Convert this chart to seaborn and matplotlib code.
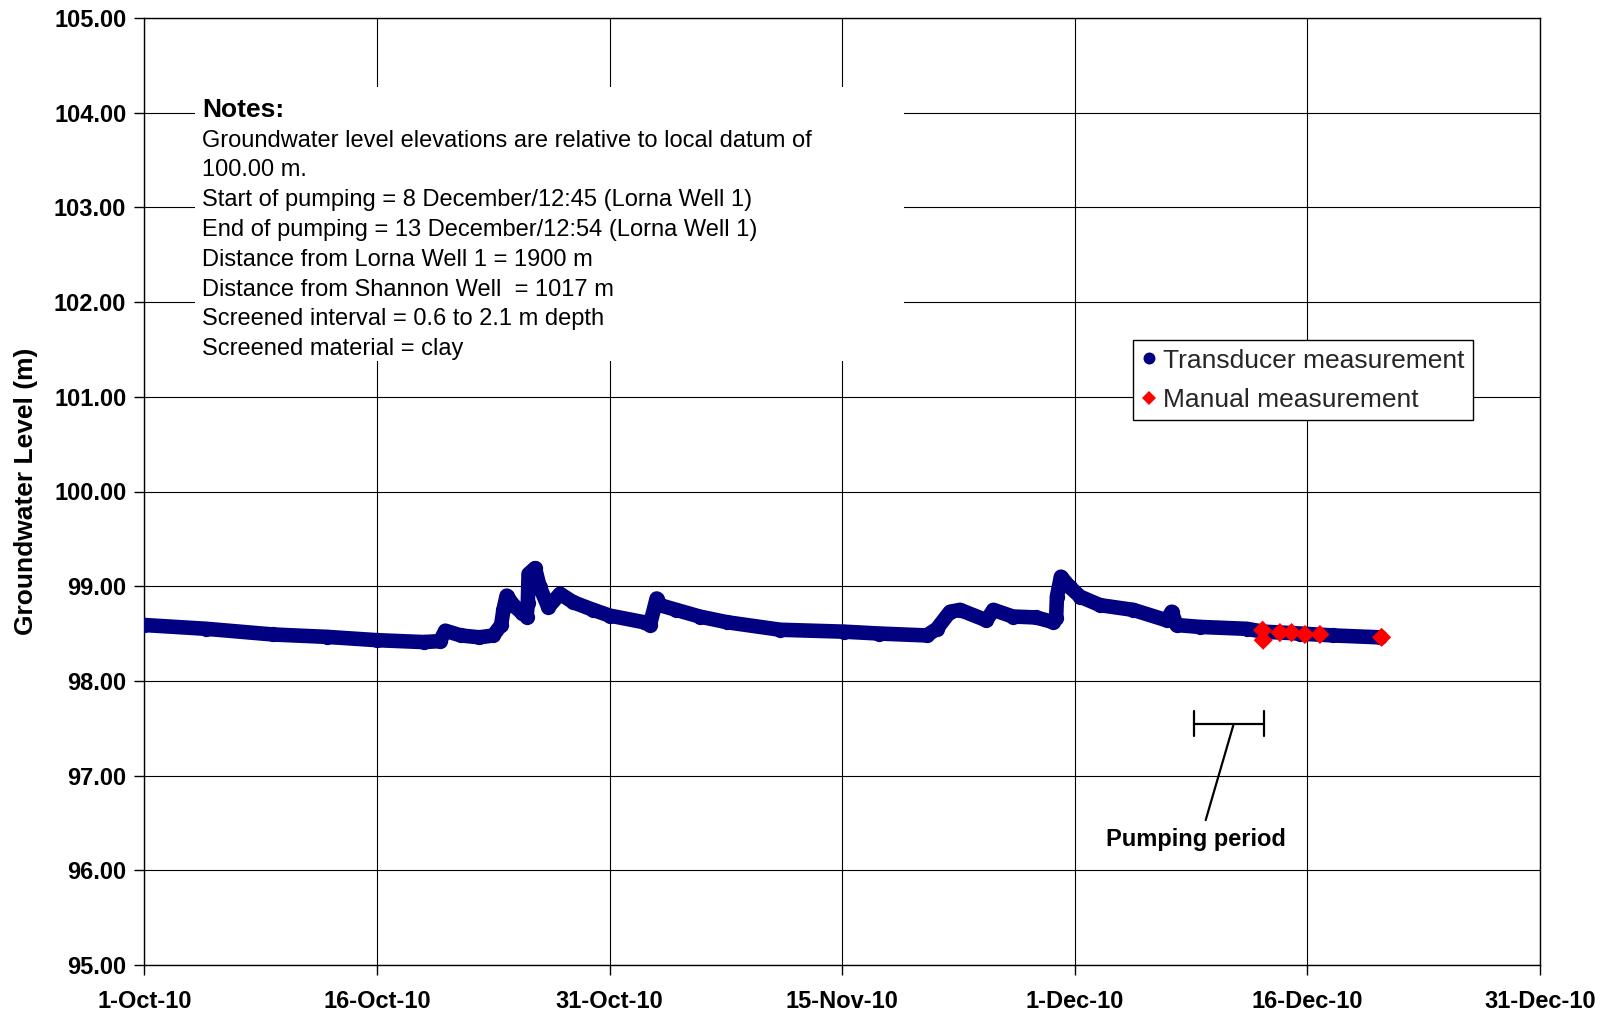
import matplotlib
matplotlib.use("Agg")
import matplotlib.pyplot as plt
import matplotlib.dates as mdates
from matplotlib.lines import Line2D
from matplotlib.patches import Rectangle
import seaborn as sns
import pandas as pd

# ---------------- data ----------------
# days after 1-Oct-2010 and groundwater level (m)
transducer_days = [0.0, 4.04, 8.39, 11.89, 15.17, 18.2, 19.27, 19.62, 20.63, 21.84,
                   22.75, 23.26, 23.41, 23.62, 24.06, 24.6, 24.92, 25.0, 25.05, 25.47,
                   25.78, 26.34, 27.1, 27.97, 29.27, 30.33, 32.56, 32.96, 33.4, 33.62,
                   34.68, 36.2, 37.97, 41.46, 45.6, 47.93, 51.01, 51.67, 52.53, 53.18,
                   54.9, 55.36, 56.62, 58.14, 59.27, 59.45, 59.5, 59.76, 60.35, 61.01,
                   62.31, 64.48, 66.65, 66.98, 67.3, 68.83, 71.87, 72.95, 75.35, 77.52,
                   80.56]
transducer_level = [98.59, 98.55, 98.49, 98.465, 98.43, 98.41, 98.42, 98.53, 98.48, 98.46,
                    98.48, 98.59, 98.75, 98.90, 98.80, 98.72, 98.68, 98.82, 99.13, 99.19,
                    98.99, 98.78, 98.92, 98.83, 98.75, 98.69, 98.62, 98.59, 98.87, 98.80,
                    98.75, 98.68, 98.62, 98.54, 98.52, 98.50, 98.48, 98.55, 98.73, 98.75,
                    98.64, 98.75, 98.68, 98.67, 98.62, 98.66, 98.89, 99.10, 98.99, 98.89,
                    98.80, 98.75, 98.64, 98.73, 98.59, 98.57, 98.55, 98.52, 98.50, 98.48,
                    98.46]
manual_days = [72.91, 72.95, 74.04, 74.80, 75.67, 76.65, 80.67]
manual_level = [98.535, 98.43, 98.51, 98.51, 98.49, 98.49, 98.46]

x_tick_labels = ["1-Oct-10", "16-Oct-10", "31-Oct-10", "15-Nov-10",
                 "1-Dec-10", "16-Dec-10", "31-Dec-10"]
y_ticks = [95, 96, 97, 98, 99, 100, 101, 102, 103, 104, 105]

notes_title = "Notes:"
notes_lines = [
    "Groundwater level elevations are relative to local datum of",
    "100.00 m.",
    "Start of pumping = 8 December/12:45 (Lorna Well 1)",
    "End of pumping = 13 December/12:54 (Lorna Well 1)",
    "Distance from Lorna Well 1 = 1900 m",
    "Distance from Shannon Well  = 1017 m",
    "Screened interval = 0.6 to 2.1 m depth",
    "Screened material = clay",
]
legend_labels = ["Transducer measurement", "Manual measurement"]

# ---------------- figure ----------------
sns.set_theme(style="white")
plt.rcParams["font.family"] = ["Liberation Sans", "DejaVu Sans"]

W, H = 1606, 1016
fig = plt.figure(figsize=(W / 100, H / 100), dpi=100)
L, R, T, B = 144.4, 1540.0, 18.0, 965.0
ax = fig.add_axes([L / W, 1 - B / H, (R - L) / W, (B - T) / H])

start = pd.Timestamp("2010-10-01")
tdf = pd.DataFrame({"date": start + pd.to_timedelta(transducer_days, unit="D"),
                    "level": transducer_level})
mdf = pd.DataFrame({"date": start + pd.to_timedelta(manual_days, unit="D"),
                    "level": manual_level})

navy = "#000080"
red = "#FF0000"

sns.lineplot(data=tdf, x="date", y="level", ax=ax, color=navy, linewidth=10.5,
             marker="o", markersize=11, markeredgewidth=0, sort=False,
             estimator=None, solid_capstyle="round", solid_joinstyle="round",
             zorder=3, legend=False)
sns.scatterplot(data=mdf, x="date", y="level", ax=ax, marker="D", s=95,
                color=red, edgecolor="none", linewidth=0, zorder=4, legend=False)

# axes limits / ticks
x0 = mdates.date2num(start)
ax.set_xlim(x0, x0 + 91)
ax.set_ylim(95, 105)
ax.set_xticks([x0 + 91 * k / 6 for k in range(7)])
ax.set_xticklabels(x_tick_labels, fontsize=17, fontweight="bold")
ax.set_yticks(y_ticks)
ax.set_yticklabels([f"{v:.2f}" for v in y_ticks], fontsize=17, fontweight="bold")
ax.tick_params(axis="both", direction="out", length=7, width=1, color="black",
               labelcolor="black", bottom=True, left=True)
ax.tick_params(axis="x", pad=11)
ax.tick_params(axis="y", pad=6)
ax.set_xlabel("")
ax.set_ylabel("Groundwater Level (m)", fontsize=19, fontweight="bold", color="black")
ax.yaxis.set_label_coords(-0.076, 0.5)

ax.grid(True, color="black", linewidth=0.8)
ax.set_axisbelow(True)
for s in ax.spines.values():
    s.set_visible(True)
    s.set_color("black")
    s.set_linewidth(1.0)

# notes box
def fx(px):
    return (px - L) / (R - L)

def fy(py):
    return (B - py) / (B - T)

ax.add_patch(Rectangle((fx(195), fy(360.5)), fx(904) - fx(195), fy(87) - fy(360.5),
                       transform=ax.transAxes, facecolor="white", edgecolor="none",
                       zorder=1))
ax.text(fx(202.5), fy(116.7), notes_title, transform=ax.transAxes, fontsize=19,
        fontweight="bold", va="baseline", ha="left", color="black", zorder=2)
for i, line in enumerate(notes_lines):
    ax.text(fx(202.5), fy(146.7 + 29.8 * i), line, transform=ax.transAxes,
            fontsize=17, va="baseline", ha="left", color="black", zorder=2)

# legend
handles = [Line2D([], [], ls="none", marker="o", color=navy, markersize=8.6,
                  markeredgewidth=0),
           Line2D([], [], ls="none", marker="D", color=red, markersize=7,
                  markeredgewidth=0)]
leg = ax.legend(handles, legend_labels, loc="upper left",
                bbox_to_anchor=(fx(1132.8), fy(340)), fontsize=19, frameon=True,
                fancybox=False, edgecolor="black", framealpha=1, borderpad=0.33,
                labelspacing=0.57, handlelength=0.6, handletextpad=0.2,
                borderaxespad=0)
leg.get_frame().set_linewidth(1.0)
leg.set_zorder(5)

# pumping period annotation
def dday(d):
    return x0 + d

bx0, bx1, by = dday(68.46), dday(73.02), 97.55
ax.plot([bx0, bx1], [by, by], color="black", lw=1.6, zorder=3)
ax.plot([bx0, bx0], [by - 0.132, by + 0.132], color="black", lw=1.6, zorder=3)
ax.plot([bx1, bx1], [by - 0.132, by + 0.132], color="black", lw=1.6, zorder=3)
ax.plot([dday(71.0), dday(69.2)], [97.53, 96.53], color="black", lw=1.6, zorder=3)
ax.text(dday(68.59), 96.33, "Pumping period", fontsize=17, fontweight="bold",
        ha="center", va="center", color="black", zorder=3)

fig.savefig("out.png", dpi=100)
